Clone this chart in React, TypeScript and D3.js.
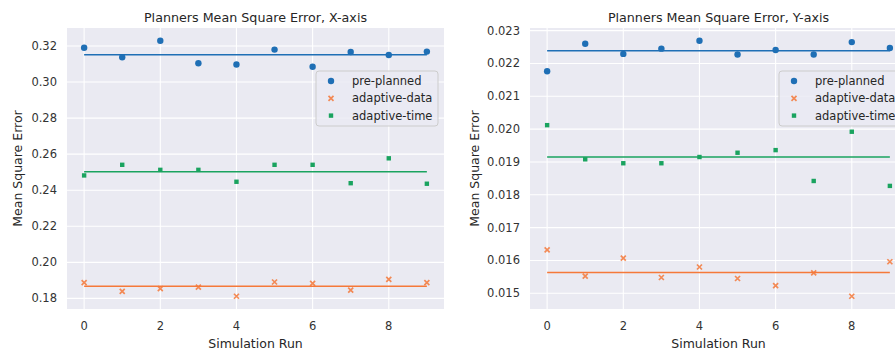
import * as d3 from 'd3';

const runs = [0, 1, 2, 3, 4, 5, 6, 7, 8, 9];
const seriesNames = ['pre-planned', 'adaptive-data', 'adaptive-time'];

const xPrePlanned = [0.319, 0.3138, 0.3229, 0.3104, 0.3097, 0.318, 0.3085, 0.3167, 0.315, 0.3169];
const xAdaptiveData = [0.1887, 0.1839, 0.1854, 0.1863, 0.1812, 0.1891, 0.1883, 0.1846, 0.1906, 0.1887];
const xAdaptiveTime = [0.2482, 0.2541, 0.2513, 0.2513, 0.2447, 0.2541, 0.2541, 0.2439, 0.2577, 0.2436];

const yPrePlanned = [0.02176, 0.0226, 0.02229, 0.02245, 0.02269, 0.02227, 0.02241, 0.02227, 0.02265, 0.02247];
const yAdaptiveData = [0.01632, 0.01552, 0.01607, 0.01548, 0.0158, 0.01545, 0.01523, 0.01562, 0.01491, 0.01596];
const yAdaptiveTime = [0.02012, 0.01908, 0.01896, 0.01896, 0.01915, 0.01928, 0.01936, 0.01842, 0.01992, 0.01827];

const xTicks = [0, 2, 4, 6, 8];
const leftTicks = [0.18, 0.2, 0.22, 0.24, 0.26, 0.28, 0.3, 0.32];
const rightTicks = [0.015, 0.016, 0.017, 0.018, 0.019, 0.02, 0.021, 0.022, 0.023];

const colors = ['#1f6fb5', '#f5793a', '#1aa35f'];
const font = 'DejaVu Sans, sans-serif';

type PanelProps = {
  title: string;
  series: number[][];
  ticks: number[];
  fmt: string;
  left: number;
  right: number;
  top: number;
  bottom: number;
  labelX: number;
};

function Marker({ kind, cx, cy, color }: { kind: number; cx: number; cy: number; color: string }) {
  if (kind === 0) return <circle cx={cx} cy={cy} r={3.2} fill={color} />;
  if (kind === 1) {
    const s = 2.5;
    return (
      <path
        d={`M${cx - s},${cy - s}L${cx + s},${cy + s}M${cx - s},${cy + s}L${cx + s},${cy - s}`}
        stroke={color}
        strokeWidth={1.7}
        opacity={0.85}
      />
    );
  }
  return <rect x={cx - 2.2} y={cy - 2.2} width={4.4} height={4.4} fill={color} />;
}

function Panel({ title, series, ticks, fmt, left, right, top, bottom, labelX }: PanelProps) {
  const all = series.flat();
  const lo = d3.min(all) ?? 0;
  const hi = d3.max(all) ?? 1;
  const pad = (hi - lo) * 0.05;
  const x = d3.scaleLinear().domain([-0.45, 9.45]).range([left, right]);
  const y = d3.scaleLinear().domain([lo - pad, hi + pad]).range([bottom, top]);
  const f = d3.format(fmt);
  const midY = (top + bottom) / 2;

  return (
    <g fontFamily={font}>
      <rect x={left} y={top} width={right - left} height={bottom - top} fill="#eaeaf2" />
      {ticks.map((t) => (
        <line key={`gy${t}`} x1={left} x2={right} y1={y(t)} y2={y(t)} stroke="#fff" strokeWidth={1.1} />
      ))}
      {xTicks.map((t) => (
        <line key={`gx${t}`} x1={x(t)} x2={x(t)} y1={top} y2={bottom} stroke="#fff" strokeWidth={1.1} />
      ))}
      {series.map((vals, i) => {
        const m = d3.mean(vals) ?? 0;
        return (
          <line key={`m${i}`} x1={x(0)} x2={x(9)} y1={y(m)} y2={y(m)} stroke={colors[i]} strokeWidth={1.5} />
        );
      })}
      {series.map((vals, i) =>
        vals.map((v, j) => <Marker key={`p${i}-${j}`} kind={i} cx={x(runs[j])} cy={y(v)} color={colors[i]} />)
      )}
      {ticks.map((t) => (
        <text key={`ty${t}`} x={left - 10} y={y(t)} dy="0.35em" textAnchor="end" fontSize={11.5} fill="#333">
          {f(t)}
        </text>
      ))}
      {xTicks.map((t) => (
        <text key={`tx${t}`} x={x(t)} y={bottom + 21} textAnchor="middle" fontSize={11.5} fill="#333">
          {t}
        </text>
      ))}
      <text x={(left + right) / 2} y={22} textAnchor="middle" fontSize={12.7} fill="#262626">
        {title}
      </text>
      <text x={(left + right) / 2} y={348} textAnchor="middle" fontSize={12.5} fill="#262626">
        Simulation Run
      </text>
      <text
        transform={`translate(${labelX},${midY}) rotate(-90)`}
        textAnchor="middle"
        dy="0.35em"
        fontSize={12.5}
        fill="#262626"
      >
        Mean Square Error
      </text>
      <g transform={`translate(${right - 128},71)`}>
        <rect x={0} y={0} width={122} height={55} rx={3} fill="#eaeaf2" fillOpacity={0.8} stroke="#cccccc" />
        {seriesNames.map((name, i) => (
          <g key={name} transform={`translate(0,${10 + i * 17.3})`}>
            <Marker kind={i} cx={15} cy={0} color={colors[i]} />
            <text x={36} y={0} dy="0.35em" fontSize={11.5} fill="#262626">
              {name}
            </text>
          </g>
        ))}
      </g>
    </g>
  );
}

export default function App() {
  return (
    <svg
      width={895}
      height={354}
      style={{ position: 'absolute', left: 0, top: 0, background: '#fff' }}
    >
      <Panel
        title="Planners Mean Square Error, X-axis"
        series={[xPrePlanned, xAdaptiveData, xAdaptiveTime]}
        ticks={leftTicks}
        fmt=".2f"
        left={67}
        right={444}
        top={28}
        bottom={309}
        labelX={18}
      />
      <Panel
        title="Planners Mean Square Error, Y-axis"
        series={[yPrePlanned, yAdaptiveData, yAdaptiveTime]}
        ticks={rightTicks}
        fmt=".3f"
        left={530}
        right={907}
        top={28}
        bottom={309}
        labelX={475}
      />
    </svg>
  );
}
